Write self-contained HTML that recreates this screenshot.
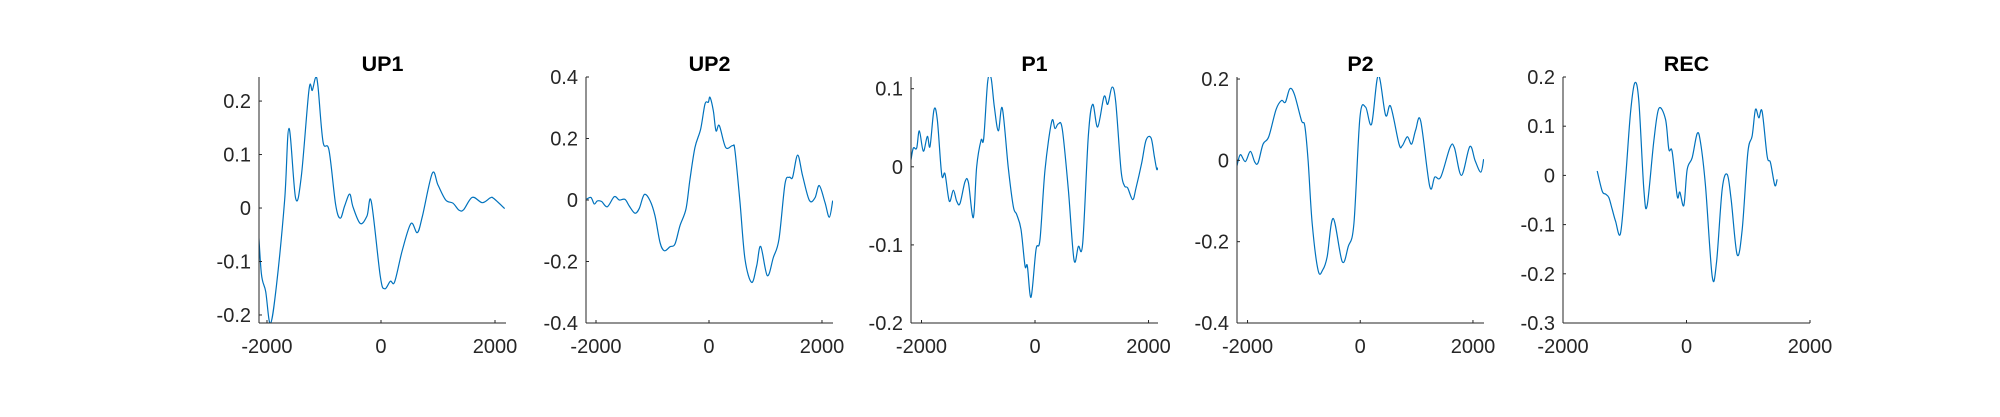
<!DOCTYPE html>
<html><head><meta charset="utf-8">
<style>
html,body{margin:0;padding:0;background:#fff;}
svg{display:block;}
text{font-family:"Liberation Sans",Arial,sans-serif;}
</style></head>
<body>
<svg id="fig" width="2000" height="417" viewBox="0 0 2000 417" xmlns="http://www.w3.org/2000/svg"></svg>
<script>
// ---- data ----
const titles = ["UP1","UP2","P1","P2","REC"];
const xTicks = [-2000,0,2000];
const xTickLabels = ["-2000","0","2000"];
const up1T = [-2163,-2099,-2023,-1941,-1836,-1690,-1614,-1497,-1398,-1263,-1205,-1146,-1105,-1017,-912,-795,-714,-637,-549,-491,-363,-246,-170,-12,65,164,240,374,526,637,725,900,1000,1135,1263,1368,1450,1602,1777,1918,1976,2170];
const up1V = [-0.016,-0.122,-0.156,-0.216,-0.147,0.015,0.149,0.018,0.059,0.221,0.220,0.244,0.227,0.124,0.108,0.006,-0.019,0.004,0.026,0.002,-0.029,-0.015,0.012,-0.128,-0.151,-0.137,-0.138,-0.079,-0.029,-0.046,-0.016,0.065,0.043,0.015,0.009,-0.004,-0.003,0.020,0.010,0.019,0.018,-0.001];
const up2T = [-2165,-2089,-2030,-1977,-1900,-1800,-1676,-1588,-1487,-1410,-1310,-1233,-1145,-1044,-956,-867,-791,-690,-602,-513,-407,-336,-248,-147,-71,-12,18,77,124,183,295,419,460,549,637,755,844,915,1032,1139,1239,1345,1422,1480,1569,1658,1776,1876,1952,2053,2130,2190];
const up2V = [0.003,0.008,-0.013,-0.003,-0.005,-0.022,0.011,0.000,0.002,-0.020,-0.043,-0.027,0.018,-0.002,-0.051,-0.138,-0.165,-0.152,-0.143,-0.083,-0.029,0.068,0.171,0.231,0.312,0.318,0.334,0.290,0.225,0.242,0.171,0.177,0.160,-0.008,-0.192,-0.268,-0.214,-0.151,-0.246,-0.187,-0.127,0.052,0.074,0.074,0.146,0.078,-0.001,0.007,0.047,-0.008,-0.056,-0.002];
const p1T = [-2185,-2144,-2085,-2038,-1968,-1897,-1850,-1780,-1721,-1644,-1586,-1510,-1439,-1380,-1322,-1233,-1174,-1087,-1028,-951,-904,-834,-775,-717,-646,-576,-470,-382,-323,-247,-176,-135,-70,18,88,176,294,352,411,481,587,687,763,840,939,1016,1104,1216,1281,1357,1422,1515,1574,1633,1721,1780,1880,1956,2044,2103,2144,2165];
const p1V = [0.009,0.024,0.024,0.046,0.020,0.039,0.026,0.073,0.060,-0.010,-0.009,-0.044,-0.030,-0.044,-0.047,-0.019,-0.020,-0.065,0.000,0.034,0.036,0.109,0.114,0.077,0.046,0.075,-0.002,-0.051,-0.061,-0.080,-0.127,-0.127,-0.167,-0.106,-0.093,-0.004,0.058,0.049,0.055,0.048,-0.029,-0.119,-0.102,-0.098,0.039,0.080,0.051,0.090,0.080,0.102,0.083,-0.004,-0.024,-0.027,-0.042,-0.027,0.005,0.034,0.037,0.013,-0.003,-0.001];
const p2T = [-2187,-2128,-2039,-1950,-1872,-1813,-1725,-1624,-1494,-1399,-1328,-1250,-1168,-1043,-984,-925,-853,-747,-664,-587,-480,-320,-213,-112,-6,95,201,320,450,539,688,746,836,912,984,1072,1233,1322,1429,1594,1671,1796,1944,2039,2139,2190];
const p2V = [-0.013,0.014,-0.003,0.022,-0.004,-0.006,0.040,0.058,0.125,0.147,0.143,0.176,0.162,0.098,0.085,-0.001,-0.155,-0.271,-0.269,-0.237,-0.143,-0.249,-0.212,-0.155,0.105,0.131,0.089,0.209,0.111,0.133,0.040,0.036,0.058,0.040,0.075,0.097,-0.064,-0.041,-0.041,0.032,0.031,-0.037,0.034,-0.001,-0.029,0.003];
const recT = [-1446,-1365,-1311,-1258,-1203,-1149,-1069,-988,-907,-837,-772,-691,-637,-529,-448,-340,-286,-232,-151,-108,-43,11,92,173,227,308,416,486,578,659,723,820,902,993,1063,1117,1171,1225,1306,1360,1430,1468];
const recV = [0.009,-0.032,-0.038,-0.045,-0.069,-0.093,-0.118,-0.008,0.127,0.188,0.151,-0.028,-0.061,0.070,0.136,0.114,0.053,0.048,-0.042,-0.034,-0.061,0.012,0.036,0.085,0.067,-0.022,-0.205,-0.177,-0.028,0.002,-0.049,-0.161,-0.110,0.046,0.080,0.134,0.117,0.130,0.039,0.026,-0.020,-0.008];
const seriesT = [up1T,up2T,p1T,p2T,recT];
const seriesV = [up1V,up2V,p1V,p2V,recV];
const yTicks = [[-0.2,-0.1,0,0.1,0.2],[-0.4,-0.2,0,0.2,0.4],[-0.2,-0.1,0,0.1],[-0.4,-0.2,0,0.2],[-0.3,-0.2,-0.1,0,0.1,0.2]];
const yTickLabels = [["-0.2","-0.1","0","0.1","0.2"],["-0.4","-0.2","0","0.2","0.4"],["-0.2","-0.1","0","0.1"],["-0.4","-0.2","0","0.2"],["-0.3","-0.2","-0.1","0","0.1","0.2"]];
const xLims = [[-2140,2193],[-2177,2195],[-2185,2167],[-2187,2196],[-2000,2000]];
const yLims = [[-0.215,0.245],[-0.4,0.4],[-0.2,0.115],[-0.4,0.205],[-0.3,0.2]];
// ---- layout ----
const axLeft = [259,586,911,1237,1563];
const axW = 247, axTop = 77, axBot = 323;
const NS = "http://www.w3.org/2000/svg";
const svg = document.getElementById('fig');
function mk(tag, attrs, parent){const e=document.createElementNS(NS,tag);for(const k in attrs)e.setAttribute(k,attrs[k]);(parent||svg).appendChild(e);return e;}
function smoothPath(pts){
  let d = "M"+pts[0][0].toFixed(2)+","+pts[0][1].toFixed(2);
  for(let i=0;i<pts.length-1;i++){
    const p0=pts[Math.max(i-1,0)],p1=pts[i],p2=pts[i+1],p3=pts[Math.min(i+2,pts.length-1)];
    const c1=[p1[0]+(p2[0]-p0[0])/6,p1[1]+(p2[1]-p0[1])/6];
    const c2=[p2[0]-(p3[0]-p1[0])/6,p2[1]-(p3[1]-p1[1])/6];
    d+=" C"+c1[0].toFixed(2)+","+c1[1].toFixed(2)+" "+c2[0].toFixed(2)+","+c2[1].toFixed(2)+" "+p2[0].toFixed(2)+","+p2[1].toFixed(2);
  }
  return d;
}
const defs = mk('defs',{});
for(let p=0;p<5;p++){
  const L=axLeft[p];
  const xs = t => L + (t - xLims[p][0])/(xLims[p][1]-xLims[p][0])*axW;
  const ys = v => axBot - (v - yLims[p][0])/(yLims[p][1]-yLims[p][0])*(axBot-axTop);
  const g = mk('g',{});
  
  
  const cp = mk('clipPath',{id:'clip'+p},defs);
  mk('rect',{x:L,y:axTop,width:axW,height:axBot-axTop},cp);
  const pts = seriesT[p].map((t,i)=>[xs(t),ys(seriesV[p][i])]);
  const path = mk('path',{d:smoothPath(pts),fill:'none',stroke:'#0072BD','stroke-width':1.2,'clip-path':'url(#clip'+p+')'},g);
  
  
  const ya = mk('line',{x1:L,y1:axTop,x2:L,y2:axBot,stroke:'#262626','stroke-width':1},g);
  
  
  const xa = mk('line',{x1:L,y1:axBot,x2:L+axW,y2:axBot,stroke:'#262626','stroke-width':1},g);
  
  
  yTicks[p].forEach((v,i)=>{
    const y=ys(v);
    mk('line',{x1:L,y1:y,x2:L+3,y2:y,stroke:'#262626','stroke-width':1},g);
    const tx = mk('text',{x:L-8,y:y+7,'text-anchor':'end','font-size':20,fill:'#262626'},g);
    tx.textContent = yTickLabels[p][i];
    
    
  });
  xTicks.forEach((t,i)=>{
    const x=xs(t);
    mk('line',{x1:x,y1:axBot,x2:x,y2:axBot-3,stroke:'#262626','stroke-width':1},g);
    const tx = mk('text',{x:x,y:353,'text-anchor':'middle','font-size':20,fill:'#262626'},g);
    tx.textContent = xTickLabels[i];
    
    
  });
  const ti = mk('text',{x:L+axW/2,y:71,'text-anchor':'middle','font-size':21.5,'font-weight':'bold',fill:'#000'},g);
  ti.textContent = titles[p];
  
  
}
</script>
</body></html>
